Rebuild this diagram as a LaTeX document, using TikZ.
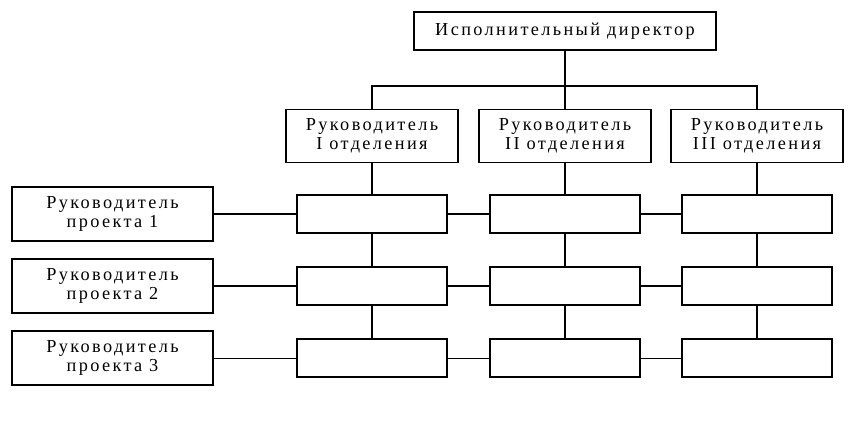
\documentclass[tikz,border=0pt]{standalone}
\usepackage{fontspec}
\setmainfont[LetterSpace=13]{Liberation Serif}
\begin{document}
\begin{tikzpicture}[x=0.025cm,y=-0.025cm,
    box/.style={draw, line width=1pt, inner sep=0pt, align=center,
      font=\fontsize{13}{13.5}\selectfont},
    topbox/.style={box, minimum width=7.55cm, minimum height=0.95cm},
    deptbox/.style={box, minimum width=4.3cm, minimum height=1.33cm},
    projbox/.style={box, minimum width=5.03cm, minimum height=1.35cm},
    cell/.style={box, minimum width=3.75cm, minimum height=0.95cm},
    link/.style={line width=1pt},
    thinlink/.style={line width=0.6pt}]
  \useasboundingbox (0,0) rectangle (848,427);
  % top level
  \node [topbox] (dir) at (565,31) {Исполнительный директор};
  \coordinate (bus) at (565,86);
  % departments
  \node [deptbox] (d1) at (372,136) {Руководитель\\I отделения};
  \node [deptbox] (d2) at (565,136) {Руководитель\\II отделения};
  \node [deptbox] (d3) at (757,136) {Руководитель\\III отделения};
  % projects
  \node [projbox] (p1) at (112.5,214) {Руководитель\\проекта 1};
  \node [projbox] (p2) at (112.5,286) {Руководитель\\проекта 2};
  \node [projbox] (p3) at (112.5,358) {Руководитель\\проекта 3};
  % matrix cells
  \foreach \c/\x in {1/372,2/565,3/757}
    \foreach \r/\y in {1/214,2/286,3/358}
      \node [cell] (c\c\r) at (\x,\y) {};
  % connectors
  \draw [link] (dir) -- (bus);
  \draw [link] (d1.north) -- (d1.north |- bus) -- (d3.north |- bus) -- (d3.north);
  \draw [link] (d2.north) -- (bus);
  \foreach \c in {1,2,3} {
    \draw [link] (d\c) -- (c\c1);
    \draw [link] (c\c1) -- (c\c2);
    \draw [link] (c\c2) -- (c\c3);
  }
  \foreach \r/\s in {1/link,2/link,3/thinlink} {
    \draw [\s] (p\r) -- (c1\r);
    \draw [\s] (c1\r) -- (c2\r);
    \draw [\s] (c2\r) -- (c3\r);
  }
\end{tikzpicture}
\end{document}
